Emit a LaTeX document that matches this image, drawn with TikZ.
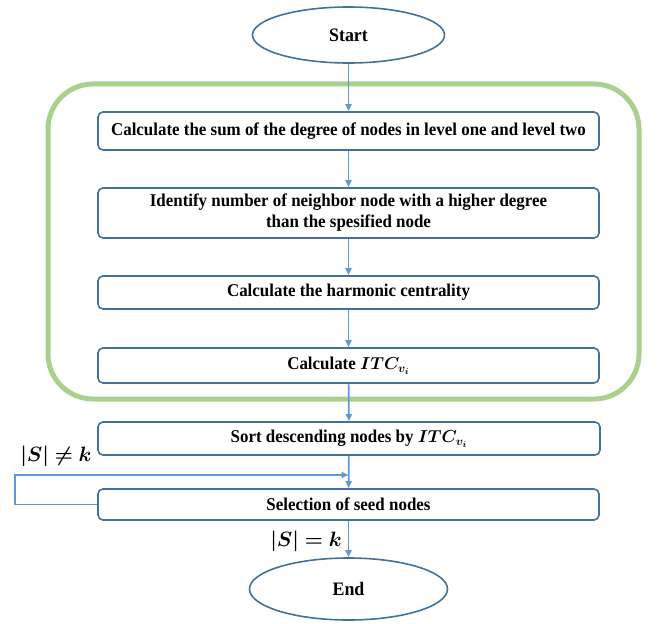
\documentclass[tikz,border=0pt]{standalone}
\usepackage{fontspec}
\setmainfont{Liberation Serif}[FakeStretch=0.94]
\usepackage{amsmath}
\usepackage{bm}
\usepackage{xcolor}
\usetikzlibrary{shapes.geometric,arrows.meta,positioning}
\definecolor{boxline}{HTML}{41719C}
\definecolor{arrowblue}{HTML}{5B9BD5}
\definecolor{groupgreen}{HTML}{A9D18E}

\begin{document}
\begin{tikzpicture}[
    x=1pt, y=-1pt,
    terminal/.style={ellipse, minimum width=192pt, minimum height=56pt, text centered, draw=boxline, line width=1.6pt, font=\fontsize{19}{22}\selectfont\bfseries},
    process/.style={rectangle, rounded corners=5pt, minimum width=501pt, minimum height=33pt, text centered, align=center, draw=boxline, line width=1.6pt, font=\fontsize{18}{21}\selectfont\bfseries},
    groupbox/.style={rectangle, rounded corners=45pt, draw=groupgreen, line width=5pt},
    arrow/.style={->, >={Triangle[length=7pt,width=6pt]}, line width=1.7pt, draw=arrowblue},
    cond/.style={font=\fontsize{20.5}{24}\selectfont}
]
\useasboundingbox (0,0) rectangle (660,623);

% Nodes
\node (phase) [groupbox, minimum width=591pt, minimum height=315pt] at (343.5,241.5) {};
\node (start) [terminal] at (348.5,35) {Start};
\node (sumdeg) [process, minimum height=38pt] at (348.5,131) {Calculate the sum of the degree of nodes in level one and level two};
\node (higher) [process, minimum height=50pt] at (348.5,213) {Identify number of neighbor node with a higher degree\\than the spesified node};
\node (harmonic) [process] at (348.5,292.5) {Calculate the harmonic centrality};
\node (itc) [process, minimum height=35pt] at (348.5,365.5) {Calculate $\bm{ITC_{v_i}}$};
\node (sort) [process, minimum width=502pt] at (349,438.5) {Sort descending nodes by $\bm{ITC_{v_i}}$};
\node (select) [process, minimum height=31pt] at (348.5,504.5) {Selection of seed nodes};
\node (stop) [terminal, minimum width=198pt, minimum height=62pt] at (348.5,589) {End};
\coordinate (merge) at (348.5,475);

% Labels
\node (notk) [cond] at (56,456) {$\bm{|S|\neq k}$};
\node (isk) [cond] at (306,541) {$\bm{|S|=k}$};

% Arrows
\draw [arrow] (start) -- (sumdeg);
\draw [arrow] (sumdeg) -- (higher);
\draw [arrow] (higher) -- (harmonic);
\draw [arrow] (harmonic) -- (itc);
\draw [arrow] (itc) -- (sort);
\draw [arrow] (sort) -- (select);
\draw [arrow] (select) -- (stop);
\draw [arrow] (select.west) -- ++(-82,0) |- (merge);

\end{tikzpicture}
\end{document}
